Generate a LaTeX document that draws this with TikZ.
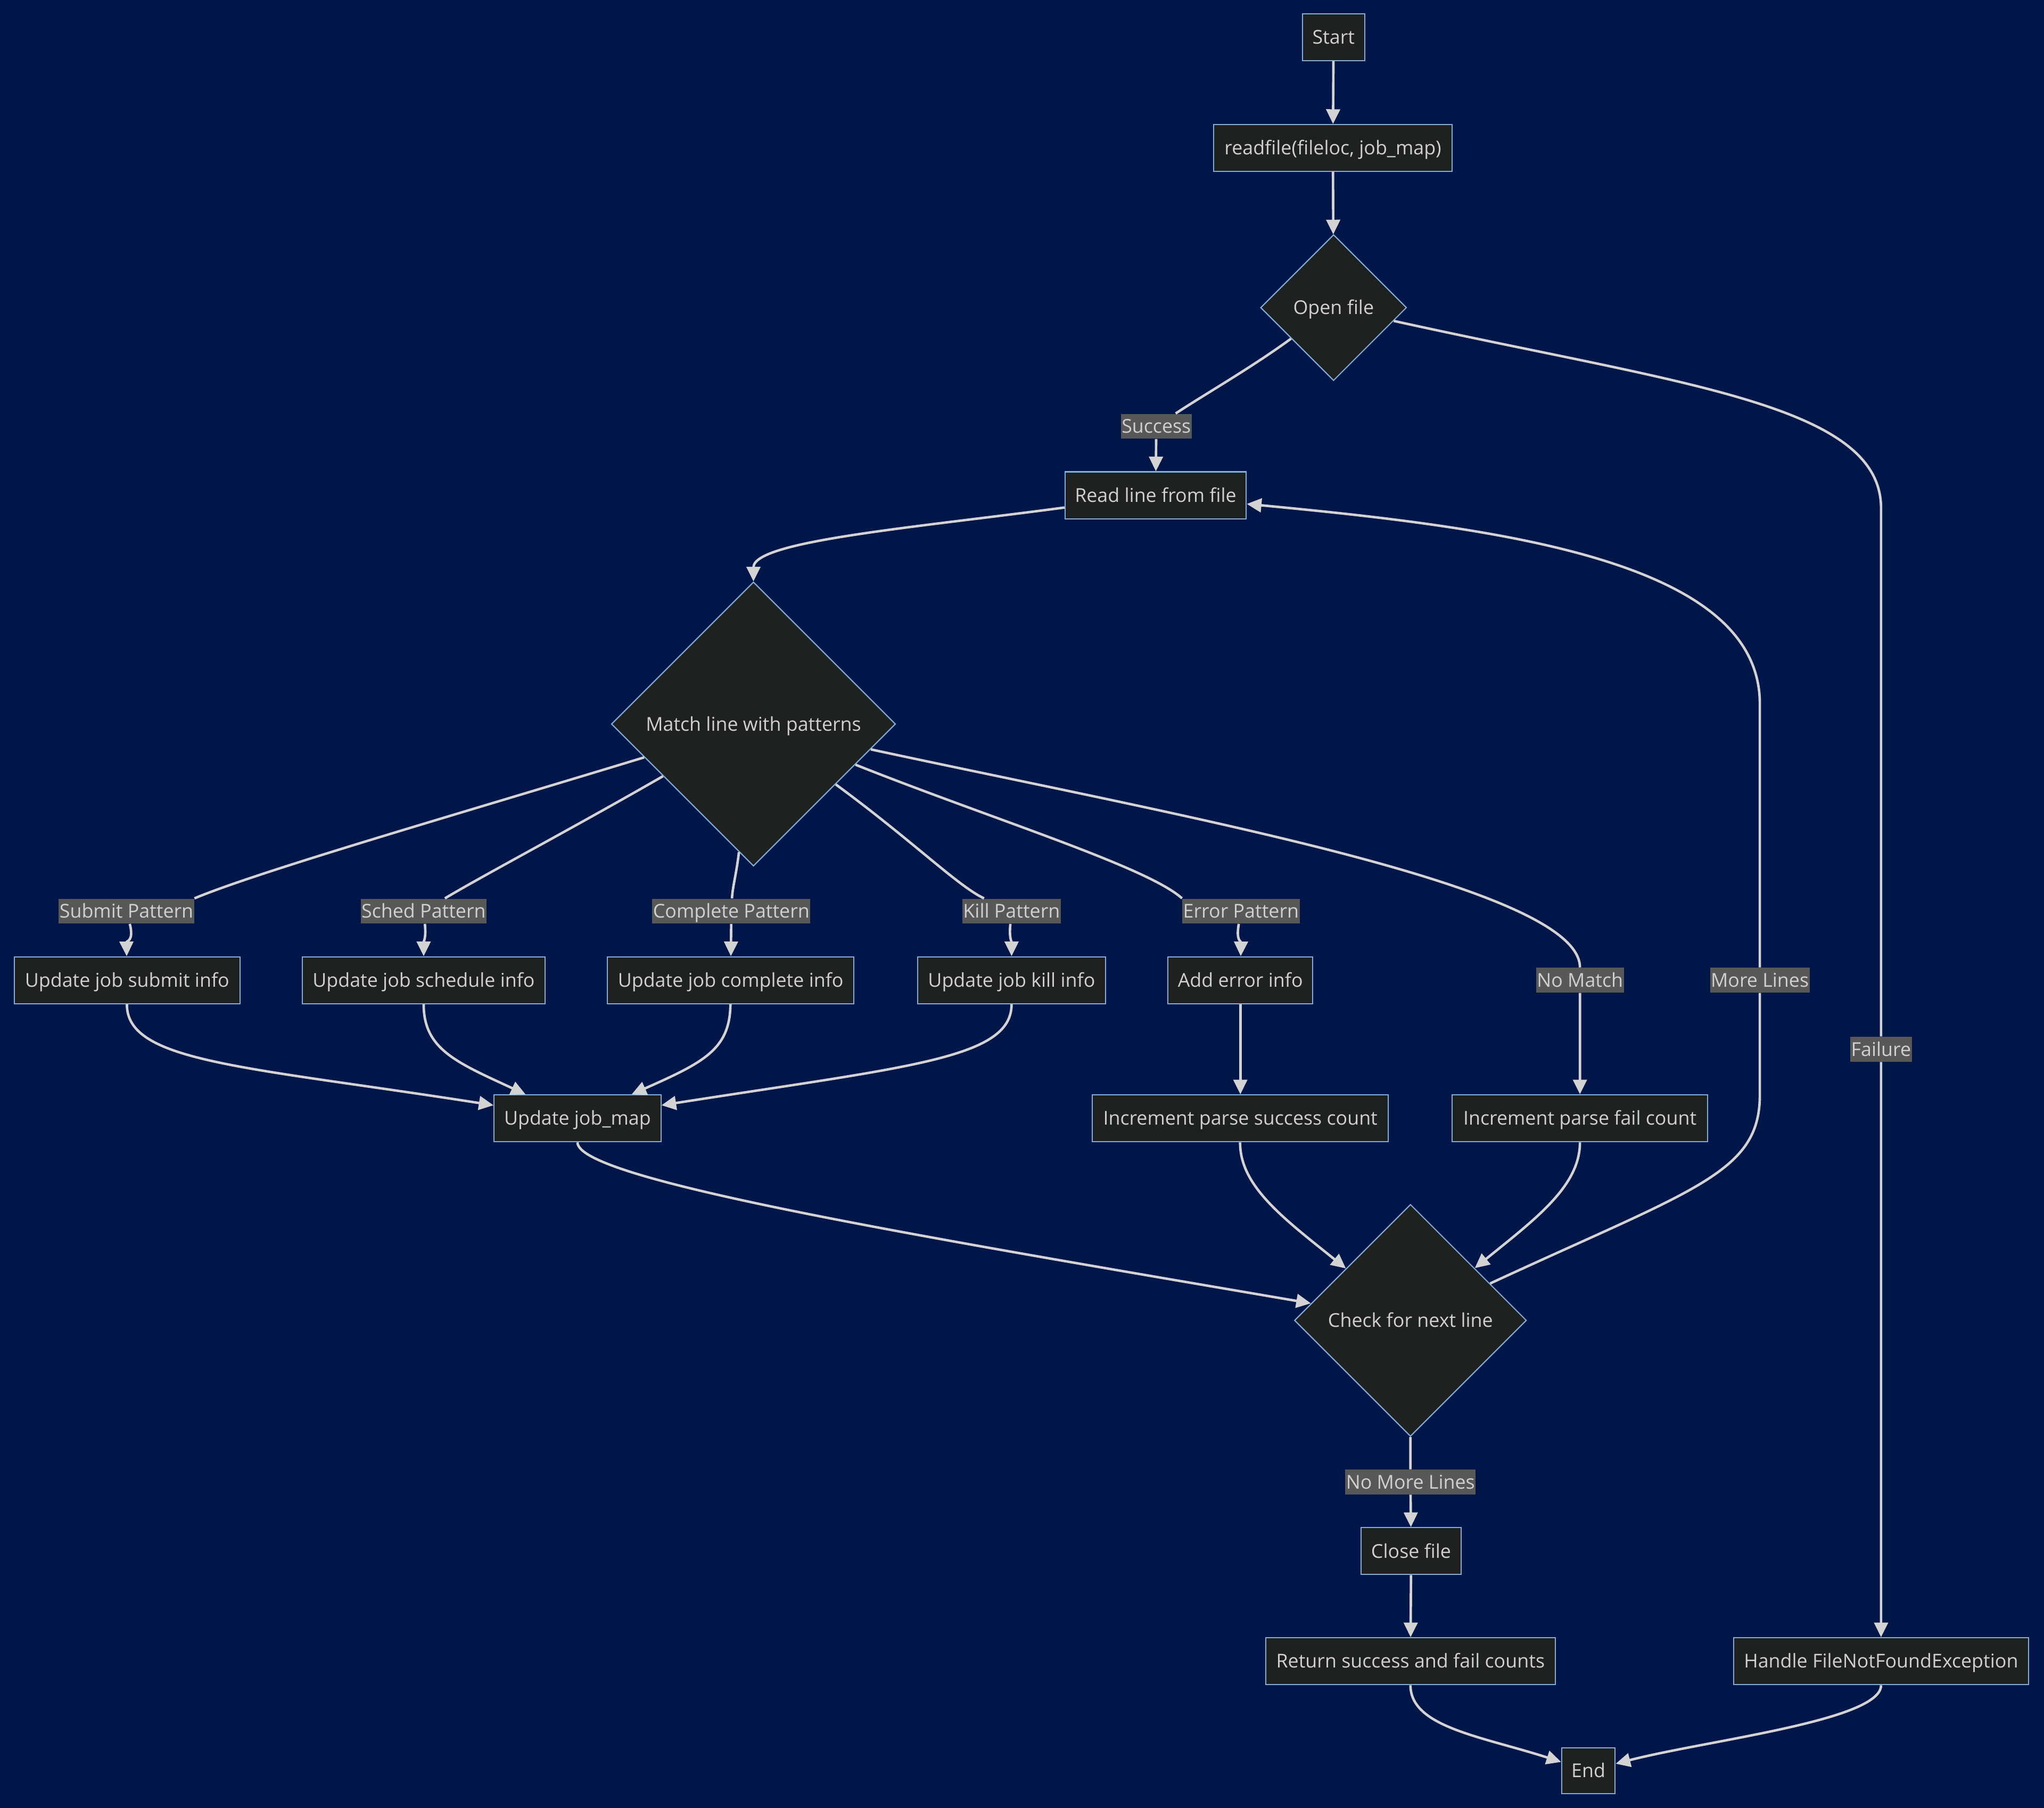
\documentclass[tikz,border=0pt]{standalone}
\usepackage{fontspec}
\setmainfont{Open Sans}
\usetikzlibrary{shapes.geometric,arrows.meta}
\definecolor{bgcol}{HTML}{001548}
\definecolor{nodefill}{HTML}{1F2020}
\definecolor{nodeborder}{HTML}{81B1DB}
\definecolor{nodetext}{HTML}{D0D0D0}
\definecolor{edgecol}{HTML}{D3D3D3}
\definecolor{labelbg}{HTML}{585858}
\definecolor{labeltext}{HTML}{D0D0D0}
\newcommand\myfs{\fontsize{10.4pt}{12pt}\selectfont}
\tikzset{
  txt/.style={text height=9.9pt, text depth=2.5pt},
  box/.style={draw=nodeborder, fill=nodefill, text=nodetext, line width=0.6pt,
    minimum height=0.9cm, inner sep=0pt, font=\myfs, txt},
  wd/.style={minimum width=#1*0.025cm},
  dec/.style={diamond, aspect=1, draw=nodeborder, fill=nodefill, text=nodetext,
    line width=0.6pt, inner sep=0pt, minimum width=#1*0.025cm,
    minimum height=#1*0.025cm, font=\myfs, txt},
  elabel/.style={fill=labelbg, text=labeltext, inner xsep=0.4pt, inner ysep=0pt,
    minimum height=19*0.025cm, font=\myfs, txt},
  conn/.style={draw=edgecol, line width=1.35pt, -{Triangle[length=8pt,width=7.5pt]}},
}
\begin{document}
\begin{tikzpicture}[x=0.025cm, y=-0.025cm]
\fill[bgcol] (0,0) rectangle (1568,1387);
\useasboundingbox (0,0) rectangle (1568,1387);

% nodes
\node[box, wd=48] (start) at (1023,28.5) {Start};
\node[box, wd=183] (readfile) at (1022.5,113.5) {readfile(fileloc, job\_map)};
\node[dec=112] (open) at (1023,236) {Open file};
\node[box, wd=139] (readline) at (886.5,380) {Read line from file};
\node[dec=218] (match) at (578,555.5) {Match line with patterns};
\node[box, wd=173] (subinfo) at (97.5,752) {Update job submit info};
\node[box, wd=186] (schedinfo) at (325,752) {Update job schedule info};
\node[box, wd=189] (compinfo) at (560.5,752) {Update job complete info};
\node[box, wd=144] (killinfo) at (776,752) {Update job kill info};
\node[box, wd=111] (errinfo) at (951.5,752) {Add error info};
\node[box, wd=128] (jobmap) at (443,858) {Update job\_map};
\node[box, wd=227] (incsucc) at (951.5,858) {Increment parse success count};
\node[box, wd=196] (incfail) at (1212,858) {Increment parse fail count};
\node[dec=178] (check) at (1082,1013) {Check for next line};
\node[box, wd=77] (closef) at (1082.5,1190) {Close file};
\node[box, wd=222] (ret) at (1082,1274.5) {Return success and fail counts};
\node[box, wd=226] (handle) at (1443,1274.5) {Handle FileNotFoundException};
\node[box, wd=41, minimum height=35*0.025cm] (endn) at (1218.5,1358.5) {End};

% edge labels
\node[elabel] (lsucc) at (887,327) {Success};
\node[elabel] (lsub) at (97,699) {Submit Pattern};
\node[elabel] (lsched) at (325,699) {Sched Pattern};
\node[elabel] (lcomp) at (561,699) {Complete Pattern};
\node[elabel] (lkill) at (776,699) {Kill Pattern};
\node[elabel] (lerr) at (952,699) {Error Pattern};
\node[elabel] (lnomatch) at (1212,752) {No Match};
\node[elabel] (lmore) at (1350,752) {More Lines};
\node[elabel] (lfail) at (1443,805) {Failure};
\node[elabel] (lnml) at (1082,1137) {No More Lines};

% connectors
\draw[conn] (start) -- (readfile);
\draw[conn] (readfile) -- (open);
\draw[conn] (open) .. controls (960,282) and (925,302) .. (lsucc) -- (readline);
\draw[conn] (open) .. controls (1290,295) and (1443,310) .. (1443,390) -- (lfail) -- (handle);
\draw[conn] (readline) .. controls (700,405) and (578,415) .. (match.north);
\draw[conn] (match) .. controls (350,625) and (200,668) .. (lsub.north east)
  (lsub) .. controls (103,722) and (97,722) .. (subinfo);
\draw[conn] (match) .. controls (440,635) and (370,672) .. (lsched)
  .. controls (327,720) and (325,722) .. (schedinfo);
\draw[conn] (match) .. controls (565,670) and (562,680) .. (lcomp) -- (compinfo);
\draw[conn] (match) .. controls (700,645) and (735,680) .. (lkill)
  .. controls (774,720) and (776,722) .. (killinfo);
\draw[conn] (match) .. controls (760,628) and (880,665) .. (lerr.north west)
  (lerr) .. controls (948,722) and (952,722) .. (errinfo);
\draw[conn] (match) .. controls (900,625) and (1212,680) .. (lnomatch) -- (incfail);
\draw[conn] (errinfo) -- (incsucc);
\draw[conn] (subinfo) .. controls (97,815) and (187,818) .. (jobmap);
\draw[conn] (schedinfo) .. controls (325,805) and (350,815) .. (jobmap);
\draw[conn] (compinfo) .. controls (560,805) and (540,815) .. (jobmap);
\draw[conn] (killinfo) .. controls (776,812) and (699,818) .. (jobmap);
\draw[conn] (jobmap) .. controls (443,905) and (702,948) .. (check);
\draw[conn] (incsucc) .. controls (951,910) and (985,935) .. (check);
\draw[conn] (incfail) .. controls (1212,910) and (1178,935) .. (check);
\draw[conn] (check) .. controls (1300,912) and (1350,900) .. (1350,840) -- (lmore)
  -- (1350,540) .. controls (1350,430) and (1150,405) .. (readline);
\draw[conn] (check) -- (lnml) -- (closef);
\draw[conn] (closef) -- (ret);
\draw[conn] (ret) .. controls (1082,1325) and (1136,1332) .. (endn);
\draw[conn] (handle) .. controls (1443,1320) and (1310,1335) .. (endn);
\end{tikzpicture}
\end{document}
